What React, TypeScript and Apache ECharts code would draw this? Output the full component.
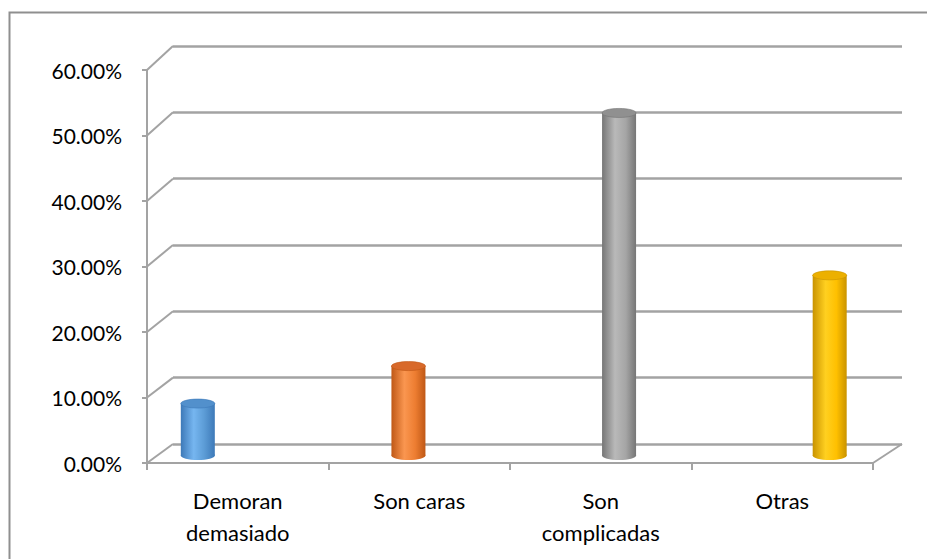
import React, { useEffect, useRef } from "react";
import * as echarts from "echarts";

// Reasons and their share of responses
const categories = ["Demoran\ndemasiado", "Son caras", "Son\ncomplicadas", "Otras"];
const shares = [0.079, 0.136, 0.521, 0.274];

// Value axis range and step
const axisMin = 0;
const axisMax = 0.6;
const axisStep = 0.1;

// Cylinder shading: [edge, highlight, body, cap]
const cylinderPalette = [
  ["#3d79b8", "#76b6f0", "#5b9bd5", "#5290cc"],
  ["#bf5816", "#fa9650", "#ed7d31", "#d8692a"],
  ["#767676", "#b9b9b9", "#a5a5a5", "#909090"],
  ["#c99300", "#ffd020", "#ffc000", "#ecb000"],
];

const FONT = "Lato";
const GRID_LINE = "#a3a3a3";

const pct = (v: number) => (v * 100).toFixed(2) + "%";

export default function App() {
  const ref = useRef<HTMLDivElement>(null);

  useEffect(() => {
    if (!ref.current) return;
    const chart = echarts.init(ref.current, undefined, { renderer: "svg" });

    const front = { left: 139, top: 62, width: 726, height: 393 };
    const back = { left: 165, top: 38, width: 729, height: 398 };

    const option: any = {
      animation: false,
      backgroundColor: "#ffffff",
      grid: [
        front,
        back,
        { left: 84.5, top: 53, width: 860, height: 394.5 },
      ],
      xAxis: [
        {
          gridIndex: 0,
          type: "category",
          data: categories,
          axisLine: { show: true, lineStyle: { color: GRID_LINE, width: 2 } },
          axisTick: { show: true, length: 7, lineStyle: { color: GRID_LINE, width: 2 } },
          axisLabel: {
            color: "#000",
            fontFamily: FONT,
            fontSize: 22,
            lineHeight: 32,
            margin: 21,
          },
        },
        { gridIndex: 1, type: "category", data: categories, show: false },
        { gridIndex: 2, type: "category", data: categories, show: false },
      ],
      yAxis: [
        {
          gridIndex: 0,
          type: "value",
          min: axisMin,
          max: axisMax,
          interval: axisStep,
          axisLine: { show: true, lineStyle: { color: GRID_LINE, width: 2 } },
          axisTick: { show: true, length: 5, lineStyle: { color: GRID_LINE, width: 2 } },
          splitLine: { show: false },
          axisLabel: {
            color: "#000",
            fontFamily: FONT,
            fontSize: 21,
            margin: 25,
            formatter: (v: number) => pct(v),
          },
        },
        {
          gridIndex: 1,
          type: "value",
          min: axisMin,
          max: axisMax,
          interval: axisStep,
          axisLine: { show: false },
          axisTick: { show: false },
          axisLabel: { show: false },
          splitLine: { show: true, lineStyle: { color: GRID_LINE, width: 2.5 } },
        },
        {
          gridIndex: 2,
          type: "value",
          min: axisMin,
          max: axisMax,
          interval: axisStep,
          show: false,
        },
      ],
      series: [
        {
          type: "custom",
          xAxisIndex: 2,
          yAxisIndex: 2,
          data: shares.map((v, i) => [i, v]),
          renderItem: (params: any, api: any) => {
            const i = api.value(0);
            const v = api.value(1);
            const top = api.coord([i, v]);
            const base = api.coord([i, 0]);
            const rx = 17;
            const ry = 4.5;
            const [edge, light, body, cap] = cylinderPalette[params.dataIndex];
            const side = new echarts.graphic.LinearGradient(0, 0, 1, 0, [
              { offset: 0, color: edge },
              { offset: 0.38, color: light },
              { offset: 0.7, color: body },
              { offset: 1, color: edge },
            ]);
            return {
              type: "group",
              children: [
                {
                  type: "ellipse",
                  shape: { cx: base[0], cy: base[1], rx, ry },
                  style: { fill: side },
                },
                {
                  type: "rect",
                  shape: { x: base[0] - rx, y: top[1], width: rx * 2, height: base[1] - top[1] },
                  style: { fill: side },
                },
                {
                  type: "ellipse",
                  shape: { cx: top[0], cy: top[1], rx, ry },
                  style: { fill: cap, stroke: edge, lineWidth: 0.6 },
                },
              ],
            };
          },
        },
      ],
    };

    chart.setOption(option);

    // Depth connectors between the front value axis and the back wall
    const ticks: number[] = [];
    for (let k = 0; k <= Math.round((axisMax - axisMin) / axisStep); k++) {
      ticks.push(axisMin + k * axisStep);
    }
    const lines: any[] = ticks.map((t) => {
      const yf = chart.convertToPixel({ yAxisIndex: 0 } as any, t) as number;
      const yb = chart.convertToPixel({ yAxisIndex: 1 } as any, t) as number;
      return {
        type: "line",
        shape: { x1: front.left, y1: yf, x2: back.left, y2: yb },
        style: { stroke: GRID_LINE, lineWidth: 2 },
      };
    });
    const yf0 = chart.convertToPixel({ yAxisIndex: 0 } as any, axisMin) as number;
    const yb0 = chart.convertToPixel({ yAxisIndex: 1 } as any, axisMin) as number;
    lines.push({
      type: "line",
      shape: {
        x1: front.left + front.width,
        y1: yf0,
        x2: back.left + back.width,
        y2: yb0,
      },
      style: { stroke: GRID_LINE, lineWidth: 2 },
    });

    chart.setOption({
      graphic: [
        {
          type: "rect",
          shape: { x: 1.5, y: 4.5, width: 1200, height: 1200 },
          style: { fill: "none", stroke: "#8f8f8f", lineWidth: 2 },
          silent: true,
        },
        ...lines,
      ],
    });

    return () => chart.dispose();
  }, []);

  return <div ref={ref} style={{ width: 927, height: 551 }} />;
}
